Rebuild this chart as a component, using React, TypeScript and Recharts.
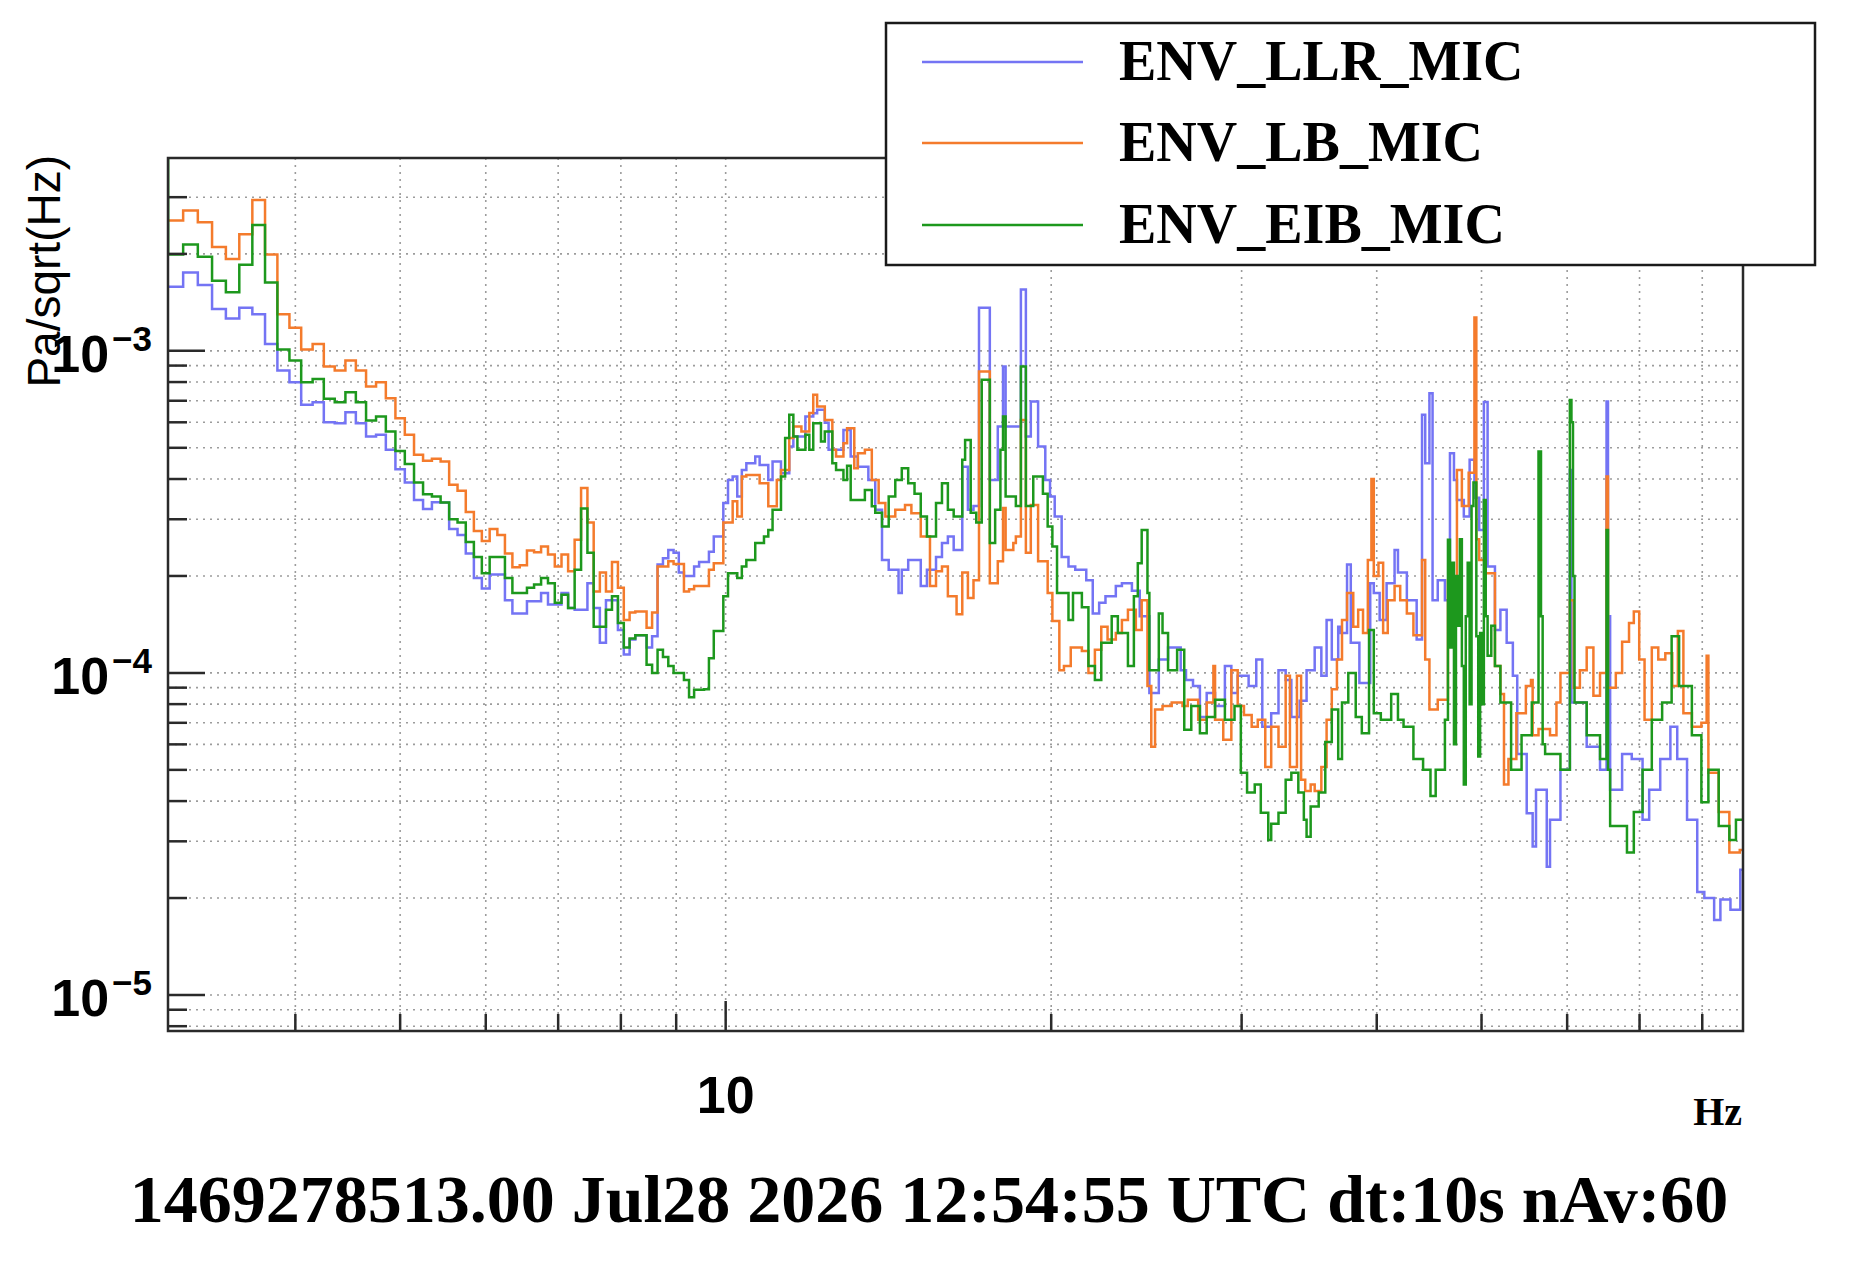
import React from 'react';
import { LineChart, Line, XAxis, YAxis, CartesianGrid } from 'recharts';

// layout of the picture (chart coordinates)
const W = 1840;
const H = 1250;
const PLOT = { left: 160, top: 150, right: 1735, bottom: 1023 };

const X_DOMAIN: [number, number] = [3.05, 87.25]; // Hz
const Y_DOMAIN: [number, number] = [7.73e-6, 3.97e-3]; // Pa/sqrt(Hz)

const xTicks = [4, 5, 6, 7, 8, 9, 10, 20, 30, 40, 50, 60, 70, 80];
const xLabeled = [10];
const yTicks = [
  8e-6, 9e-6,
  1e-5, 2e-5, 3e-5, 4e-5, 5e-5, 6e-5, 7e-5, 8e-5, 9e-5,
  1e-4, 2e-4, 3e-4, 4e-4, 5e-4, 6e-4, 7e-4, 8e-4, 9e-4,
  1e-3, 2e-3, 3e-3,
];

const TITLE = '1469278513.00 Jul28 2026 12:54:55 UTC dt:10s nAv:60';
const X_TITLE = 'Hz';
const Y_TITLE = 'Pa/sqrt(Hz)';

// [left edge of bin (Hz), amplitude]
const llrPoints: [number, number][] = [
  [3.05, 1.58e-3], [3.15, 1.75e-3], [3.25, 1.6e-3], [3.35, 1.35e-3], [3.45, 1.26e-3], [3.55, 1.36e-3],
  [3.65, 1.3e-3], [3.75, 1.05e-3], [3.85, 8.69e-4], [3.95, 7.99e-4], [4.05, 6.8e-4], [4.15, 6.93e-4],
  [4.25, 6.0e-4], [4.35, 5.96e-4], [4.45, 6.45e-4], [4.55, 5.96e-4], [4.65, 5.42e-4], [4.75, 5.49e-4],
  [4.85, 4.93e-4], [4.95, 4.29e-4], [5.05, 3.9e-4], [5.15, 3.44e-4], [5.25, 3.23e-4], [5.35, 3.39e-4],
  [5.45, 3.38e-4], [5.55, 2.8e-4], [5.65, 2.68e-4], [5.75, 2.35e-4], [5.85, 1.97e-4], [5.95, 1.83e-4],
  [6.05, 2.02e-4], [6.25, 1.68e-4], [6.35, 1.53e-4], [6.55, 1.67e-4], [6.75, 1.77e-4], [6.85, 1.63e-4],
  [7.05, 1.77e-4], [7.15, 1.59e-4], [7.25, 1.57e-4], [7.45, 1.9e-4], [7.55, 1.59e-4], [7.65, 1.24e-4],
  [7.75, 1.68e-4], [7.95, 1.36e-4], [8.05, 1.14e-4], [8.15, 1.27e-4], [8.25, 1.31e-4], [8.45, 1.2e-4],
  [8.55, 1.3e-4], [8.65, 2.17e-4], [8.75, 2.27e-4], [8.85, 2.41e-4], [8.95, 2.36e-4], [9.05, 2.05e-4],
  [9.15, 2.0e-4], [9.35, 2.14e-4], [9.45, 2.21e-4], [9.65, 2.38e-4], [9.75, 2.65e-4], [9.95, 3.37e-4],
  [10.05, 3.97e-4], [10.15, 4.07e-4], [10.25, 3.53e-4], [10.35, 4.27e-4], [10.45, 4.48e-4], [10.65, 4.7e-4],
  [10.75, 4.42e-4], [10.95, 3.97e-4], [11.05, 4.53e-4], [11.25, 4.17e-4], [11.45, 5.05e-4], [11.55, 5.42e-4],
  [11.85, 6.25e-4], [12.05, 6.4e-4], [12.15, 6.56e-4], [12.35, 5.98e-4], [12.45, 4.93e-4], [12.85, 5.68e-4],
  [13.05, 4.7e-4], [13.25, 4.37e-4], [13.55, 3.97e-4], [13.75, 3.21e-4], [13.95, 2.24e-4], [14.15, 2.09e-4],
  [14.45, 1.77e-4], [14.55, 2.09e-4], [14.75, 2.24e-4], [15.15, 1.86e-4], [15.35, 2.09e-4], [15.65, 2.29e-4],
  [15.85, 2.53e-4], [16.05, 2.65e-4], [16.25, 2.41e-4], [16.55, 4.37e-4], [16.75, 3.21e-4], [16.95, 3.3e-4],
  [17.15, 1.36e-3], [17.55, 3.97e-4], [17.85, 5.82e-4], [18.05, 8.94e-4], [18.15, 5.82e-4], [18.75, 1.55e-3],
  [18.95, 5.42e-4], [19.15, 6.96e-4], [19.45, 5.05e-4], [19.75, 3.97e-4], [19.95, 3.53e-4], [20.15, 3.06e-4],
  [20.45, 2.29e-4], [20.75, 2.14e-4], [21.05, 2.09e-4], [21.55, 1.94e-4], [21.85, 1.53e-4], [22.15, 1.65e-4],
  [22.45, 1.73e-4], [22.95, 1.86e-4], [23.25, 1.9e-4], [23.75, 1.8e-4], [24.15, 1.5e-4], [24.65, 8.66e-5],
  [25.15, 1.1e-4], [25.65, 1.2e-4], [26.35, 1.02e-4], [26.65, 9.5e-5], [27.05, 9.1e-5], [27.45, 7.3e-5],
  [27.85, 8.66e-5], [28.35, 7.9e-5], [28.95, 1.05e-4], [29.35, 8.66e-5], [29.75, 9.8e-5], [30.45, 9.1e-5],
  [30.95, 1.1e-4], [31.35, 6.8e-5], [31.95, 7.5e-5], [32.45, 1.02e-4], [32.95, 9.5e-5], [33.35, 7.3e-5],
  [33.95, 8.2e-5], [34.45, 1.02e-4], [35.05, 1.2e-4], [35.55, 9.8e-5], [35.95, 1.46e-4], [36.35, 1.1e-4],
  [36.85, 1.39e-4], [37.05, 1.33e-4], [37.55, 2.17e-4], [37.85, 1.24e-4], [38.55, 9.3e-5], [39.45, 1.9e-4],
  [39.75, 1.77e-4], [40.25, 1.46e-4], [40.85, 1.9e-4], [41.55, 2.41e-4], [41.85, 2.05e-4], [42.65, 1.68e-4],
  [43.55, 1.27e-4], [44.05, 6.33e-4], [44.35, 4.48e-4], [44.75, 7.39e-4], [45.05, 1.68e-4], [45.55, 1.94e-4],
  [46.25, 1.68e-4], [46.75, 4.81e-4], [47.15, 3.97e-4], [47.45, 3.44e-4], [48.15, 3.06e-4], [48.75, 4.59e-4],
  [49.25, 3.5e-4], [49.75, 2.78e-4], [50.25, 6.94e-4], [50.65, 2.14e-4], [51.45, 1.36e-4], [52.05, 1.57e-4],
  [52.75, 1.24e-4], [53.45, 9.8e-5], [53.95, 5.6e-5], [55.05, 3.67e-5], [55.75, 2.89e-5], [56.15, 4.34e-5],
  [57.45, 2.5e-5], [57.85, 3.5e-5], [59.15, 5.0e-5], [60.35, 4.27e-4], [60.55, 8.1e-5], [62.55, 5.9e-5],
  [64.35, 5.0e-5], [65.25, 6.96e-4], [65.45, 1.5e-4], [65.75, 4.34e-5], [67.45, 5.6e-5], [68.85, 5.4e-5],
  [70.45, 3.5e-5], [71.45, 4.34e-5], [73.15, 5.4e-5], [74.75, 6.8e-5], [75.85, 5.4e-5], [77.45, 3.5e-5],
  [79.15, 2.09e-5], [80.35, 2.0e-5], [82.05, 1.71e-5], [83.15, 1.98e-5], [84.95, 1.84e-5], [86.75, 2.45e-5],
  [87.25, 2.45e-5],
];

const lbPoints: [number, number][] = [
  [3.05, 2.54e-3], [3.15, 2.73e-3], [3.25, 2.51e-3], [3.35, 2.1e-3], [3.45, 1.93e-3], [3.55, 2.3e-3],
  [3.65, 2.94e-3], [3.75, 1.99e-3], [3.85, 1.3e-3], [3.95, 1.18e-3], [4.05, 1.01e-3], [4.15, 1.05e-3],
  [4.25, 8.94e-4], [4.35, 8.69e-4], [4.45, 9.33e-4], [4.55, 8.69e-4], [4.65, 7.75e-4], [4.75, 7.99e-4],
  [4.85, 7.13e-4], [4.95, 6.18e-4], [5.05, 5.49e-4], [5.15, 4.76e-4], [5.25, 4.56e-4], [5.35, 4.62e-4],
  [5.45, 4.53e-4], [5.55, 3.84e-4], [5.65, 3.68e-4], [5.75, 3.16e-4], [5.85, 2.76e-4], [5.95, 2.57e-4],
  [6.05, 2.8e-4], [6.15, 2.68e-4], [6.25, 2.35e-4], [6.35, 2.13e-4], [6.45, 2.16e-4], [6.55, 2.4e-4],
  [6.65, 2.37e-4], [6.75, 2.47e-4], [6.85, 2.33e-4], [6.95, 2.14e-4], [7.05, 2.33e-4], [7.15, 2.07e-4],
  [7.25, 2.59e-4], [7.35, 3.75e-4], [7.45, 2.93e-4], [7.55, 1.79e-4], [7.65, 2.05e-4], [7.75, 1.79e-4],
  [7.85, 2.21e-4], [7.95, 1.84e-4], [8.05, 1.46e-4], [8.15, 1.54e-4], [8.25, 1.55e-4], [8.45, 1.38e-4],
  [8.55, 1.54e-4], [8.65, 2.14e-4], [8.85, 2.22e-4], [8.95, 2.18e-4], [9.15, 1.79e-4], [9.25, 1.82e-4],
  [9.35, 1.86e-4], [9.65, 2.09e-4], [9.75, 2.19e-4], [9.95, 2.93e-4], [10.15, 3.41e-4], [10.25, 3.06e-4],
  [10.35, 4.07e-4], [10.45, 4.12e-4], [10.75, 3.88e-4], [10.95, 3.29e-4], [11.15, 3.97e-4], [11.25, 4.27e-4],
  [11.45, 5.36e-4], [11.55, 5.82e-4], [11.75, 5.62e-4], [11.95, 6.41e-4], [12.05, 7.3e-4], [12.15, 6.72e-4],
  [12.35, 6.1e-4], [12.55, 4.93e-4], [12.65, 4.7e-4], [12.85, 5.17e-4], [12.95, 5.75e-4], [13.15, 4.32e-4],
  [13.25, 4.81e-4], [13.45, 4.93e-4], [13.65, 3.97e-4], [13.85, 3.37e-4], [14.05, 3.06e-4], [14.35, 3.21e-4],
  [14.65, 3.32e-4], [14.85, 3.13e-4], [15.15, 2.65e-4], [15.45, 1.86e-4], [15.65, 2.07e-4], [15.85, 2.14e-4],
  [16.05, 1.73e-4], [16.35, 1.52e-4], [16.55, 2.05e-4], [16.75, 1.71e-4], [16.95, 1.94e-4], [17.15, 8.62e-4],
  [17.55, 1.9e-4], [17.85, 2.22e-4], [18.05, 3.25e-4], [18.15, 2.41e-4], [18.45, 2.53e-4], [18.55, 2.65e-4],
  [18.75, 6.1e-4], [18.95, 2.36e-4], [19.15, 3.32e-4], [19.45, 2.22e-4], [19.85, 1.77e-4], [20.05, 1.45e-4],
  [20.35, 1.02e-4], [20.55, 1.05e-4], [20.85, 1.2e-4], [21.35, 1.17e-4], [21.65, 1.0e-4], [21.95, 1.18e-4],
  [22.25, 1.39e-4], [22.55, 1.27e-4], [22.95, 1.33e-4], [23.25, 1.46e-4], [23.55, 1.57e-4], [23.95, 1.36e-4],
  [24.25, 1.68e-4], [24.55, 9.1e-5], [24.75, 5.9e-5], [24.95, 7.7e-5], [25.35, 7.9e-5], [25.85, 8.1e-5],
  [26.45, 7.9e-5], [26.75, 8.25e-5], [27.35, 7.15e-5], [27.85, 8.1e-5], [28.25, 1.05e-4], [28.35, 7.15e-5],
  [28.85, 6.2e-5], [29.35, 1.02e-4], [29.75, 7.9e-5], [30.15, 7.4e-5], [30.65, 6.8e-5], [31.05, 7.15e-5],
  [31.55, 5.1e-5], [31.95, 6.8e-5], [32.45, 5.9e-5], [32.95, 9.8e-5], [33.25, 5.1e-5], [33.75, 9.8e-5],
  [34.05, 4.66e-5], [34.35, 4.3e-5], [34.75, 4.5e-5], [35.05, 4.3e-5], [35.55, 5.1e-5], [35.95, 7.15e-5],
  [36.35, 8.9e-5], [36.75, 1.1e-4], [37.15, 1.46e-4], [37.55, 1.77e-4], [38.05, 1.39e-4], [38.45, 1.57e-4],
  [38.85, 1.33e-4], [39.25, 2.24e-4], [39.55, 4.0e-4], [39.75, 2.0e-4], [40.15, 2.2e-4], [40.55, 1.33e-4],
  [40.95, 1.68e-4], [41.55, 1.86e-4], [42.05, 1.68e-4], [42.65, 1.53e-4], [43.25, 1.31e-4], [44.05, 2.24e-4],
  [44.35, 1.1e-4], [44.75, 7.7e-5], [45.55, 8.25e-5], [46.55, 1.94e-4], [47.45, 4.27e-4], [47.95, 3.3e-4],
  [48.65, 4.18e-4], [49.25, 1.27e-3], [49.45, 2.6e-4], [49.75, 2.24e-4], [50.45, 2.04e-4], [51.45, 1.05e-4],
  [52.05, 8.6e-5], [52.45, 4.5e-5], [52.95, 5.4e-5], [53.85, 7.5e-5], [54.95, 9.1e-5], [55.55, 9.5e-5],
  [55.75, 6.4e-5], [56.45, 6.7e-5], [57.85, 6.4e-5], [58.65, 8.1e-5], [59.15, 1.0e-4], [60.35, 1.68e-4],
  [60.85, 9.0e-5], [61.65, 1.02e-4], [62.55, 1.2e-4], [63.45, 8.5e-5], [64.35, 1.0e-4], [65.25, 4.07e-4],
  [65.45, 9.0e-5], [66.55, 1.0e-4], [67.45, 1.25e-4], [68.45, 1.43e-4], [69.15, 1.55e-4], [69.95, 1.1e-4],
  [70.75, 7.15e-5], [71.85, 1.2e-4], [72.85, 1.1e-4], [73.95, 1.15e-4], [75.05, 9.1e-5], [75.95, 1.35e-4],
  [76.85, 7.5e-5], [78.25, 6.8e-5], [79.85, 7.0e-5], [80.75, 1.13e-4], [81.05, 4.9e-5], [82.85, 3.7e-5],
  [84.75, 2.77e-5], [86.65, 2.82e-5], [87.25, 2.82e-5],
];

const eibPoints: [number, number][] = [
  [3.05, 6.0e-3], [3.051, 1.99e-3], [3.15, 2.14e-3], [3.25, 1.96e-3], [3.35, 1.65e-3], [3.45, 1.52e-3],
  [3.55, 1.85e-3], [3.65, 2.46e-3], [3.75, 1.63e-3], [3.85, 1.01e-3], [3.95, 9.33e-4], [4.05, 7.99e-4],
  [4.15, 8.18e-4], [4.25, 7.1e-4], [4.35, 6.93e-4], [4.45, 7.44e-4], [4.55, 6.93e-4], [4.65, 6.08e-4],
  [4.75, 6.25e-4], [4.85, 5.62e-4], [4.95, 4.89e-4], [5.05, 4.45e-4], [5.15, 3.9e-4], [5.25, 3.59e-4],
  [5.35, 3.53e-4], [5.45, 3.38e-4], [5.55, 3.0e-4], [5.65, 2.93e-4], [5.75, 2.55e-4], [5.85, 2.29e-4],
  [5.95, 2.04e-4], [6.05, 2.29e-4], [6.25, 1.97e-4], [6.35, 1.77e-4], [6.55, 1.84e-4], [6.65, 1.88e-4],
  [6.75, 1.97e-4], [6.85, 1.9e-4], [6.95, 1.65e-4], [7.05, 1.75e-4], [7.15, 1.59e-4], [7.25, 2.09e-4],
  [7.35, 3.24e-4], [7.45, 2.36e-4], [7.55, 1.39e-4], [7.75, 1.57e-4], [7.85, 1.73e-4], [7.95, 1.43e-4],
  [8.05, 1.2e-4], [8.15, 1.28e-4], [8.25, 1.31e-4], [8.45, 1.06e-4], [8.55, 1.0e-4], [8.65, 1.18e-4],
  [8.75, 1.12e-4], [8.85, 1.05e-4], [8.95, 1.0e-4], [9.15, 9.5e-5], [9.25, 8.4e-5], [9.35, 8.87e-5],
  [9.55, 8.9e-5], [9.65, 1.11e-4], [9.75, 1.35e-4], [9.95, 1.73e-4], [10.05, 2.04e-4], [10.25, 1.97e-4],
  [10.35, 2.14e-4], [10.45, 2.24e-4], [10.65, 2.53e-4], [10.85, 2.65e-4], [10.95, 2.78e-4], [11.05, 3.21e-4],
  [11.25, 4.07e-4], [11.35, 5.36e-4], [11.45, 6.33e-4], [11.55, 5.42e-4], [11.65, 4.93e-4], [11.85, 5.49e-4],
  [11.95, 4.93e-4], [12.05, 5.96e-4], [12.25, 5.23e-4], [12.35, 5.62e-4], [12.55, 4.48e-4], [12.65, 4.27e-4],
  [12.85, 3.97e-4], [12.95, 4.4e-4], [13.05, 3.44e-4], [13.45, 3.7e-4], [13.65, 3.29e-4], [13.75, 3.14e-4],
  [13.95, 2.85e-4], [14.15, 3.53e-4], [14.35, 3.97e-4], [14.55, 4.32e-4], [14.75, 3.88e-4], [14.95, 3.6e-4],
  [15.15, 3.06e-4], [15.35, 2.65e-4], [15.65, 3.37e-4], [15.85, 3.88e-4], [16.05, 3.21e-4], [16.25, 3.06e-4],
  [16.55, 4.59e-4], [16.65, 5.29e-4], [16.85, 3.14e-4], [17.05, 2.93e-4], [17.25, 8.13e-4], [17.55, 2.53e-4],
  [17.75, 3.21e-4], [17.95, 4.93e-4], [18.05, 6.25e-4], [18.15, 3.53e-4], [18.55, 3.3e-4], [18.75, 8.94e-4],
  [18.95, 3.3e-4], [19.25, 4.07e-4], [19.65, 3.6e-4], [19.85, 2.85e-4], [20.05, 2.47e-4], [20.25, 1.77e-4],
  [20.75, 1.46e-4], [20.95, 1.77e-4], [21.35, 1.6e-4], [21.65, 1.05e-4], [21.95, 9.5e-5], [22.25, 1.24e-4],
  [22.75, 1.5e-4], [23.05, 1.33e-4], [23.55, 1.05e-4], [23.85, 1.73e-4], [24.05, 2.19e-4], [24.25, 2.78e-4],
  [24.55, 1.77e-4], [24.65, 1.02e-4], [25.15, 1.53e-4], [25.35, 1.33e-4], [25.65, 1.02e-4], [26.15, 1.18e-4],
  [26.55, 6.66e-5], [26.95, 7.9e-5], [27.45, 6.5e-5], [27.85, 7.3e-5], [28.35, 8.25e-5], [28.95, 7.15e-5],
  [29.55, 7.9e-5], [29.95, 4.9e-5], [30.35, 4.25e-5], [30.85, 4.5e-5], [31.25, 3.68e-5], [31.75, 3.03e-5],
  [31.95, 3.4e-5], [32.45, 3.68e-5], [32.95, 4.66e-5], [33.35, 4.9e-5], [33.85, 4.25e-5], [34.25, 3.5e-5],
  [34.45, 3.1e-5], [34.75, 3.85e-5], [35.35, 4.25e-5], [35.85, 6.1e-5], [36.35, 7.7e-5], [36.85, 5.4e-5],
  [37.15, 8.1e-5], [37.65, 1.0e-4], [38.25, 7.3e-5], [38.75, 6.5e-5], [39.35, 1.36e-4], [39.75, 7.5e-5],
  [40.35, 7.15e-5], [41.25, 8.6e-5], [41.85, 7.15e-5], [42.35, 6.8e-5], [43.25, 5.4e-5], [44.15, 5.0e-5],
  [44.85, 4.15e-5], [45.35, 5.0e-5], [46.25, 7.15e-5], [46.55, 2.59e-4], [46.75, 1.2e-4], [46.95, 2.2e-4],
  [47.15, 6.0e-5], [47.35, 2.0e-4], [47.55, 1.4e-4], [47.75, 2.6e-4], [47.95, 1.05e-4], [48.15, 4.5e-5],
  [48.35, 1.5e-4], [48.55, 2.2e-4], [48.75, 8.0e-5], [48.95, 3.3e-4], [49.15, 3.9e-4], [49.45, 1.3e-4],
  [49.65, 5.5e-5], [49.85, 1.33e-4], [50.05, 8.0e-5], [50.25, 3.44e-4], [50.45, 1.5e-4], [50.65, 1.13e-4],
  [51.05, 1.4e-4], [51.45, 1.05e-4], [52.05, 8.1e-5], [53.25, 5.0e-5], [54.45, 6.4e-5], [55.65, 8.1e-5],
  [56.45, 4.87e-4], [56.75, 1.5e-4], [56.95, 6.0e-5], [57.25, 5.6e-5], [59.15, 5.0e-5], [60.35, 7.04e-4],
  [60.55, 6.0e-4], [60.75, 2.0e-4], [60.95, 8.1e-5], [62.55, 6.4e-5], [64.35, 5.4e-5], [65.25, 2.78e-4],
  [65.45, 5.0e-5], [65.75, 3.35e-5], [68.15, 2.77e-5], [69.15, 3.7e-5], [70.45, 5.0e-5], [71.85, 7.15e-5],
  [73.45, 8.1e-5], [74.95, 1.3e-4], [76.15, 9.1e-5], [78.25, 6.4e-5], [79.85, 3.97e-5], [81.05, 5.0e-5],
  [82.85, 3.35e-5], [84.75, 3.03e-5], [85.95, 3.5e-5], [87.25, 3.5e-5],
];

const series = [
  { name: 'ENV_LLR_MIC', color: '#7474f4', points: llrPoints },
  { name: 'ENV_LB_MIC', color: '#f47b2c', points: lbPoints },
  { name: 'ENV_EIB_MIC', color: '#1d981d', points: eibPoints },
];

const SANS = "'Liberation Sans', Arial, Helvetica, sans-serif";
const SERIF = "'Liberation Serif', 'Times New Roman', Times, serif";
const AXIS_COLOR = '#2a2a2a';

function XTick(props: any) {
  const { x, y, payload } = props;
  const v = payload.value;
  const major = xLabeled.includes(v);
  return (
    <g>
      <line x1={x} x2={x} y1={y} y2={y - (major ? 30 : 17)} stroke={AXIS_COLOR} strokeWidth={2.5} />
      {major ? (
        <text x={x} y={y + 82} textAnchor="middle" fontFamily={SANS} fontWeight="bold" fontSize={52} fill="#000">
          {String(v)}
        </text>
      ) : null}
    </g>
  );
}

function YTick(props: any) {
  const { x, y, payload } = props;
  const v = Number(payload.value);
  const e = Math.log10(v);
  const major = Math.abs(e - Math.round(e)) < 1e-6;
  return (
    <g>
      <line x1={x} x2={x + (major ? 37 : 19)} y1={y} y2={y} stroke={AXIS_COLOR} strokeWidth={2.5} />
      {major ? (
        <text x={x - 16} y={y + 21} textAnchor="end" fontFamily={SANS} fontWeight="bold" fill="#000">
          <tspan fontSize={52}>10</tspan>
          <tspan fontSize={35} dx={3} dy={-21}>{`\u2212${Math.abs(Math.round(e))}`}</tspan>
        </text>
      ) : null}
    </g>
  );
}

function Overlay() {
  const lx = 878;
  const ly = 15;
  const rowY = [54, 135, 217];
  return (
    <svg width={W} height={H} style={{ position: 'absolute', left: 0, top: 0, pointerEvents: 'none' }}>
      <rect
        x={PLOT.left}
        y={PLOT.top}
        width={PLOT.right - PLOT.left}
        height={PLOT.bottom - PLOT.top}
        fill="none"
        stroke={AXIS_COLOR}
        strokeWidth={2.5}
      />
      {/* legend */}
      <rect x={lx} y={ly} width={929} height={242} fill="#fff" stroke="#1a1a1a" strokeWidth={2.5} />
      {series.map((s, i) => (
        <g key={s.name}>
          <line x1={914} x2={1075} y1={rowY[i]} y2={rowY[i]} stroke={s.color} strokeWidth={2.5} />
          <text x={1111} y={rowY[i] + 18} fontFamily={SERIF} fontWeight="bold" fontSize={56} fill="#000">
            {s.name}
          </text>
        </g>
      ))}
      {/* axis titles */}
      <text
        x={52}
        y={147}
        transform="rotate(-90 52 147)"
        textAnchor="end"
        fontFamily={SANS}
        fontSize={46}
        fill="#000"
      >
        {Y_TITLE}
      </text>
      <text x={1734} y={1117} textAnchor="end" fontFamily={SERIF} fontWeight="bold" fontSize={40} fill="#000">
        {X_TITLE}
      </text>
      <text x={921} y={1214} textAnchor="middle" fontFamily={SERIF} fontWeight="bold" fontSize={68} fill="#000">
        {TITLE}
      </text>
    </svg>
  );
}

export default function App() {
  return (
    <div style={{ position: 'relative', width: W, height: H, background: '#fff' }}>
      <LineChart
        width={W}
        height={H}
        margin={{ top: PLOT.top, right: W - PLOT.right, bottom: 147, left: 60 }}
      >
        <CartesianGrid stroke="#9c9c9c" strokeDasharray="2 5" strokeWidth={1.6} />
        <XAxis
          dataKey="f"
          type="number"
          scale="log"
          domain={X_DOMAIN}
          allowDataOverflow
          ticks={xTicks}
          interval={0}
          height={80}
          tickSize={0}
          tickMargin={0}
          tickLine={false}
          axisLine={false}
          tick={(p: any) => <XTick {...p} />}
        />
        <YAxis
          type="number"
          scale="log"
          domain={Y_DOMAIN}
          allowDataOverflow
          ticks={yTicks}
          interval={0}
          width={100}
          tickSize={0}
          tickMargin={0}
          tickLine={false}
          axisLine={false}
          tick={(p: any) => <YTick {...p} />}
        />
        {series.map((s) => (
          <Line
            key={s.name}
            data={s.points.map(([f, v]) => ({ f, v }))}
            dataKey="v"
            type="stepAfter"
            stroke={s.color}
            strokeWidth={2.5}
            dot={false}
            activeDot={false}
            isAnimationActive={false}
          />
        ))}
      </LineChart>
      <Overlay />
    </div>
  );
}
